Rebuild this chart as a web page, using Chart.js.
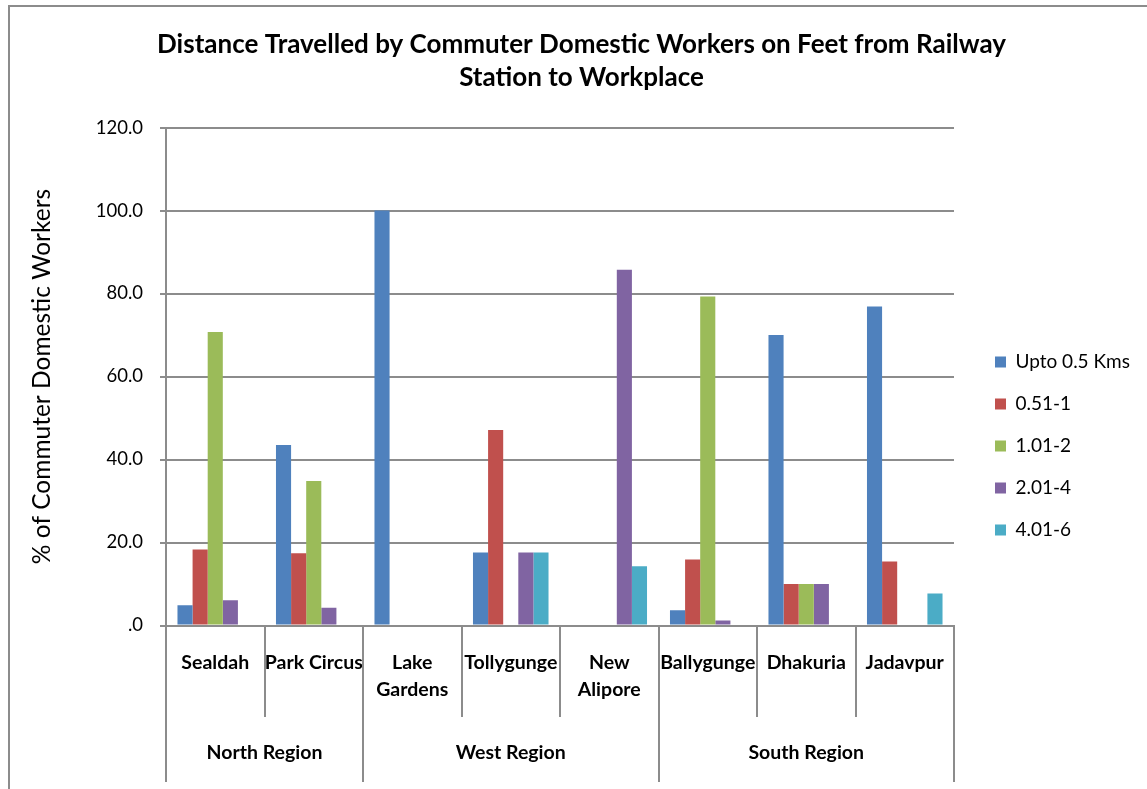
<!DOCTYPE html>
<html>
<head>
<meta charset="utf-8">
<script src="https://cdn.jsdelivr.net/npm/chart.js@4/dist/chart.umd.min.js"></script>
<style>
  html, body { margin: 0; padding: 0; background: #ffffff; }
  #c { display: block; }
</style>
</head>
<body>
<canvas id="c" width="1147" height="789"></canvas>
<script>
// Railway stations (multi-line names are split into lines)
const categories = ['Sealdah', 'Park Circus', ['Lake', 'Gardens'], 'Tollygunge', ['New', 'Alipore'], 'Ballygunge', 'Dhakuria', 'Jadavpur'];
// Regions and how many stations each one groups
const regionNames = ['North Region', 'West Region', 'South Region'];
const regionSizes = [2, 3, 3];

// Distance bands walked (legend labels)
const seriesNames = ['Upto 0.5 Kms', '0.51-1', '1.01-2', '2.01-4', '4.01-6'];
const seriesColors = ['#4F81BD', '#C0504D', '#9BBB59', '#8064A2', '#4BACC6'];

// % of commuter domestic workers per station, one array per distance band
const upto05 = [4.9, 43.5, 100.0, 17.6, 0, 3.7, 70.0, 76.9];
const band051to1 = [18.3, 17.4, 0, 47.1, 0, 15.9, 10.0, 15.4];
const band101to2 = [70.7, 34.8, 0, 0, 0, 79.3, 10.0, 0];
const band201to4 = [6.1, 4.3, 0, 17.6, 85.7, 1.2, 10.0, 0];
const band401to6 = [0, 0, 0, 17.6, 14.3, 0, 0, 7.7];

// Value axis
const yMin = 0;
const yMax = 120;
const yStep = 20;

const seriesValues = [upto05, band051to1, band101to2, band201to4, band401to6];

const GRID = '#8c8c8c';
const FONT = 'Lato, "Liberation Sans", sans-serif';
const LABEL_SIZE = 19.5;

// Outer frame of the chart object
const frame = {
  id: 'frame',
  beforeDraw(chart) {
    const ctx = chart.ctx;
    ctx.save();
    ctx.fillStyle = '#ffffff';
    ctx.fillRect(0, 0, chart.width, chart.height);
    ctx.strokeStyle = GRID;
    ctx.lineWidth = 2;
    ctx.beginPath();
    ctx.moveTo(9, chart.height + 5);
    ctx.lineTo(9, 6);
    ctx.lineTo(chart.width + 5, 6);
    ctx.stroke();
    ctx.restore();
  }
};

// Legend sits in a fixed-width column to the right of the plot
const legendPlacement = {
  id: 'legendPlacement',
  beforeLayout(chart, args, opts) {
    const lg = chart.legend;
    if (lg && !lg.$fixedWidth) {
      const fit = lg.fit;
      lg.fit = function () { fit.call(this); this.width = opts.width; };
      lg.$fixedWidth = true;
    }
  },
  afterLayout(chart, args, opts) {
    const lg = chart.legend;
    if (!lg) return;
    lg.left += opts.dx; lg.right += opts.dx;
    lg.top += opts.dy; lg.bottom += opts.dy;
  }
};

// Two-level category axis: station separators and region row
const groupedAxis = {
  id: 'groupedAxis',
  afterDraw(chart, args, opts) {
    const x = chart.scales.x;
    const ctx = chart.ctx;
    const n = categories.length;
    const boundary = k => {
      if (k <= 0) return x.left;
      if (k >= n) return x.right;
      return (x.getPixelForValue(k - 1) + x.getPixelForValue(k)) / 2;
    };
    const regionEdges = [0];
    regionSizes.forEach(s => regionEdges.push(regionEdges[regionEdges.length - 1] + s));

    ctx.save();
    ctx.strokeStyle = GRID;
    ctx.lineWidth = 2;
    for (let k = 0; k <= n; k++) {
      const px = Math.round(boundary(k));
      const isRegionEdge = regionEdges.includes(k);
      ctx.beginPath();
      ctx.moveTo(px, x.top);
      ctx.lineTo(px, x.top + (isRegionEdge ? opts.regionDepth : opts.stationDepth));
      ctx.stroke();
    }
    ctx.fillStyle = '#000000';
    ctx.font = 'bold ' + LABEL_SIZE + 'px ' + FONT;
    ctx.textAlign = 'center';
    ctx.textBaseline = 'middle';
    regionNames.forEach((name, i) => {
      const cx = (boundary(regionEdges[i]) + boundary(regionEdges[i + 1])) / 2;
      ctx.fillText(name, cx, x.top + opts.regionLabelOffset);
    });
    ctx.restore();
  }
};

new Chart(document.getElementById('c'), {
  type: 'bar',
  data: {
    labels: categories,
    datasets: seriesNames.map((name, i) => ({
      label: name,
      data: seriesValues[i],
      backgroundColor: seriesColors[i],
      borderWidth: 0,
      categoryPercentage: 0.767,
      barPercentage: 1.0
    }))
  },
  options: {
    responsive: false,
    animation: false,
    devicePixelRatio: 1,
    layout: { padding: { left: 16, right: 0, top: 0, bottom: 0 } },
    plugins: {
      title: {
        display: true,
        text: ['Distance Travelled by Commuter Domestic Workers on Feet from Railway', 'Station to Workplace'],
        color: '#000000',
        font: { family: FONT, size: 26, weight: 'bold', lineHeight: 1.27 },
        padding: { top: 28.5, bottom: 33 }
      },
      legend: {
        position: 'right',
        labels: {
          color: '#000000',
          font: { family: FONT, size: 19 },
          boxWidth: 11,
          boxHeight: 11,
          padding: 23
        }
      },
      tooltip: { enabled: false },
      legendPlacement: { width: 193, dx: 18, dy: 51.5 },
      groupedAxis: { stationDepth: 91.5, regionDepth: 156.5, regionLabelOffset: 127.5 }
    },
    scales: {
      x: {
        grid: { display: false, drawTicks: false },
        border: { display: true, color: GRID, width: 2 },
        ticks: {
          color: '#000000',
          font: { family: FONT, size: LABEL_SIZE, weight: 'bold', lineHeight: 1.37 },
          padding: 24.15,
          maxRotation: 0,
          autoSkip: false
        },
        afterFit(scale) { scale.height = 163.5; }
      },
      y: {
        min: yMin,
        max: yMax,
        grid: { color: GRID, lineWidth: 2, tickLength: 6, tickColor: GRID },
        border: { display: true, color: GRID, width: 2 },
        ticks: {
          stepSize: yStep,
          color: '#000000',
          font: { family: FONT, size: 18.5 },
          padding: 17,
          callback: v => (v === 0 ? '.0' : Number(v).toFixed(1))
        },
        title: {
          display: true,
          text: '% of Commuter Domestic Workers',
          color: '#000000',
          font: { family: FONT, size: 24.5, weight: 'normal', lineHeight: 1.2 },
          padding: { top: 11.3, bottom: 0 }
        },
        afterFit(scale) { scale.width = 150; }
      }
    }
  },
  plugins: [frame, legendPlacement, groupedAxis]
});
</script>
</body>
</html>
